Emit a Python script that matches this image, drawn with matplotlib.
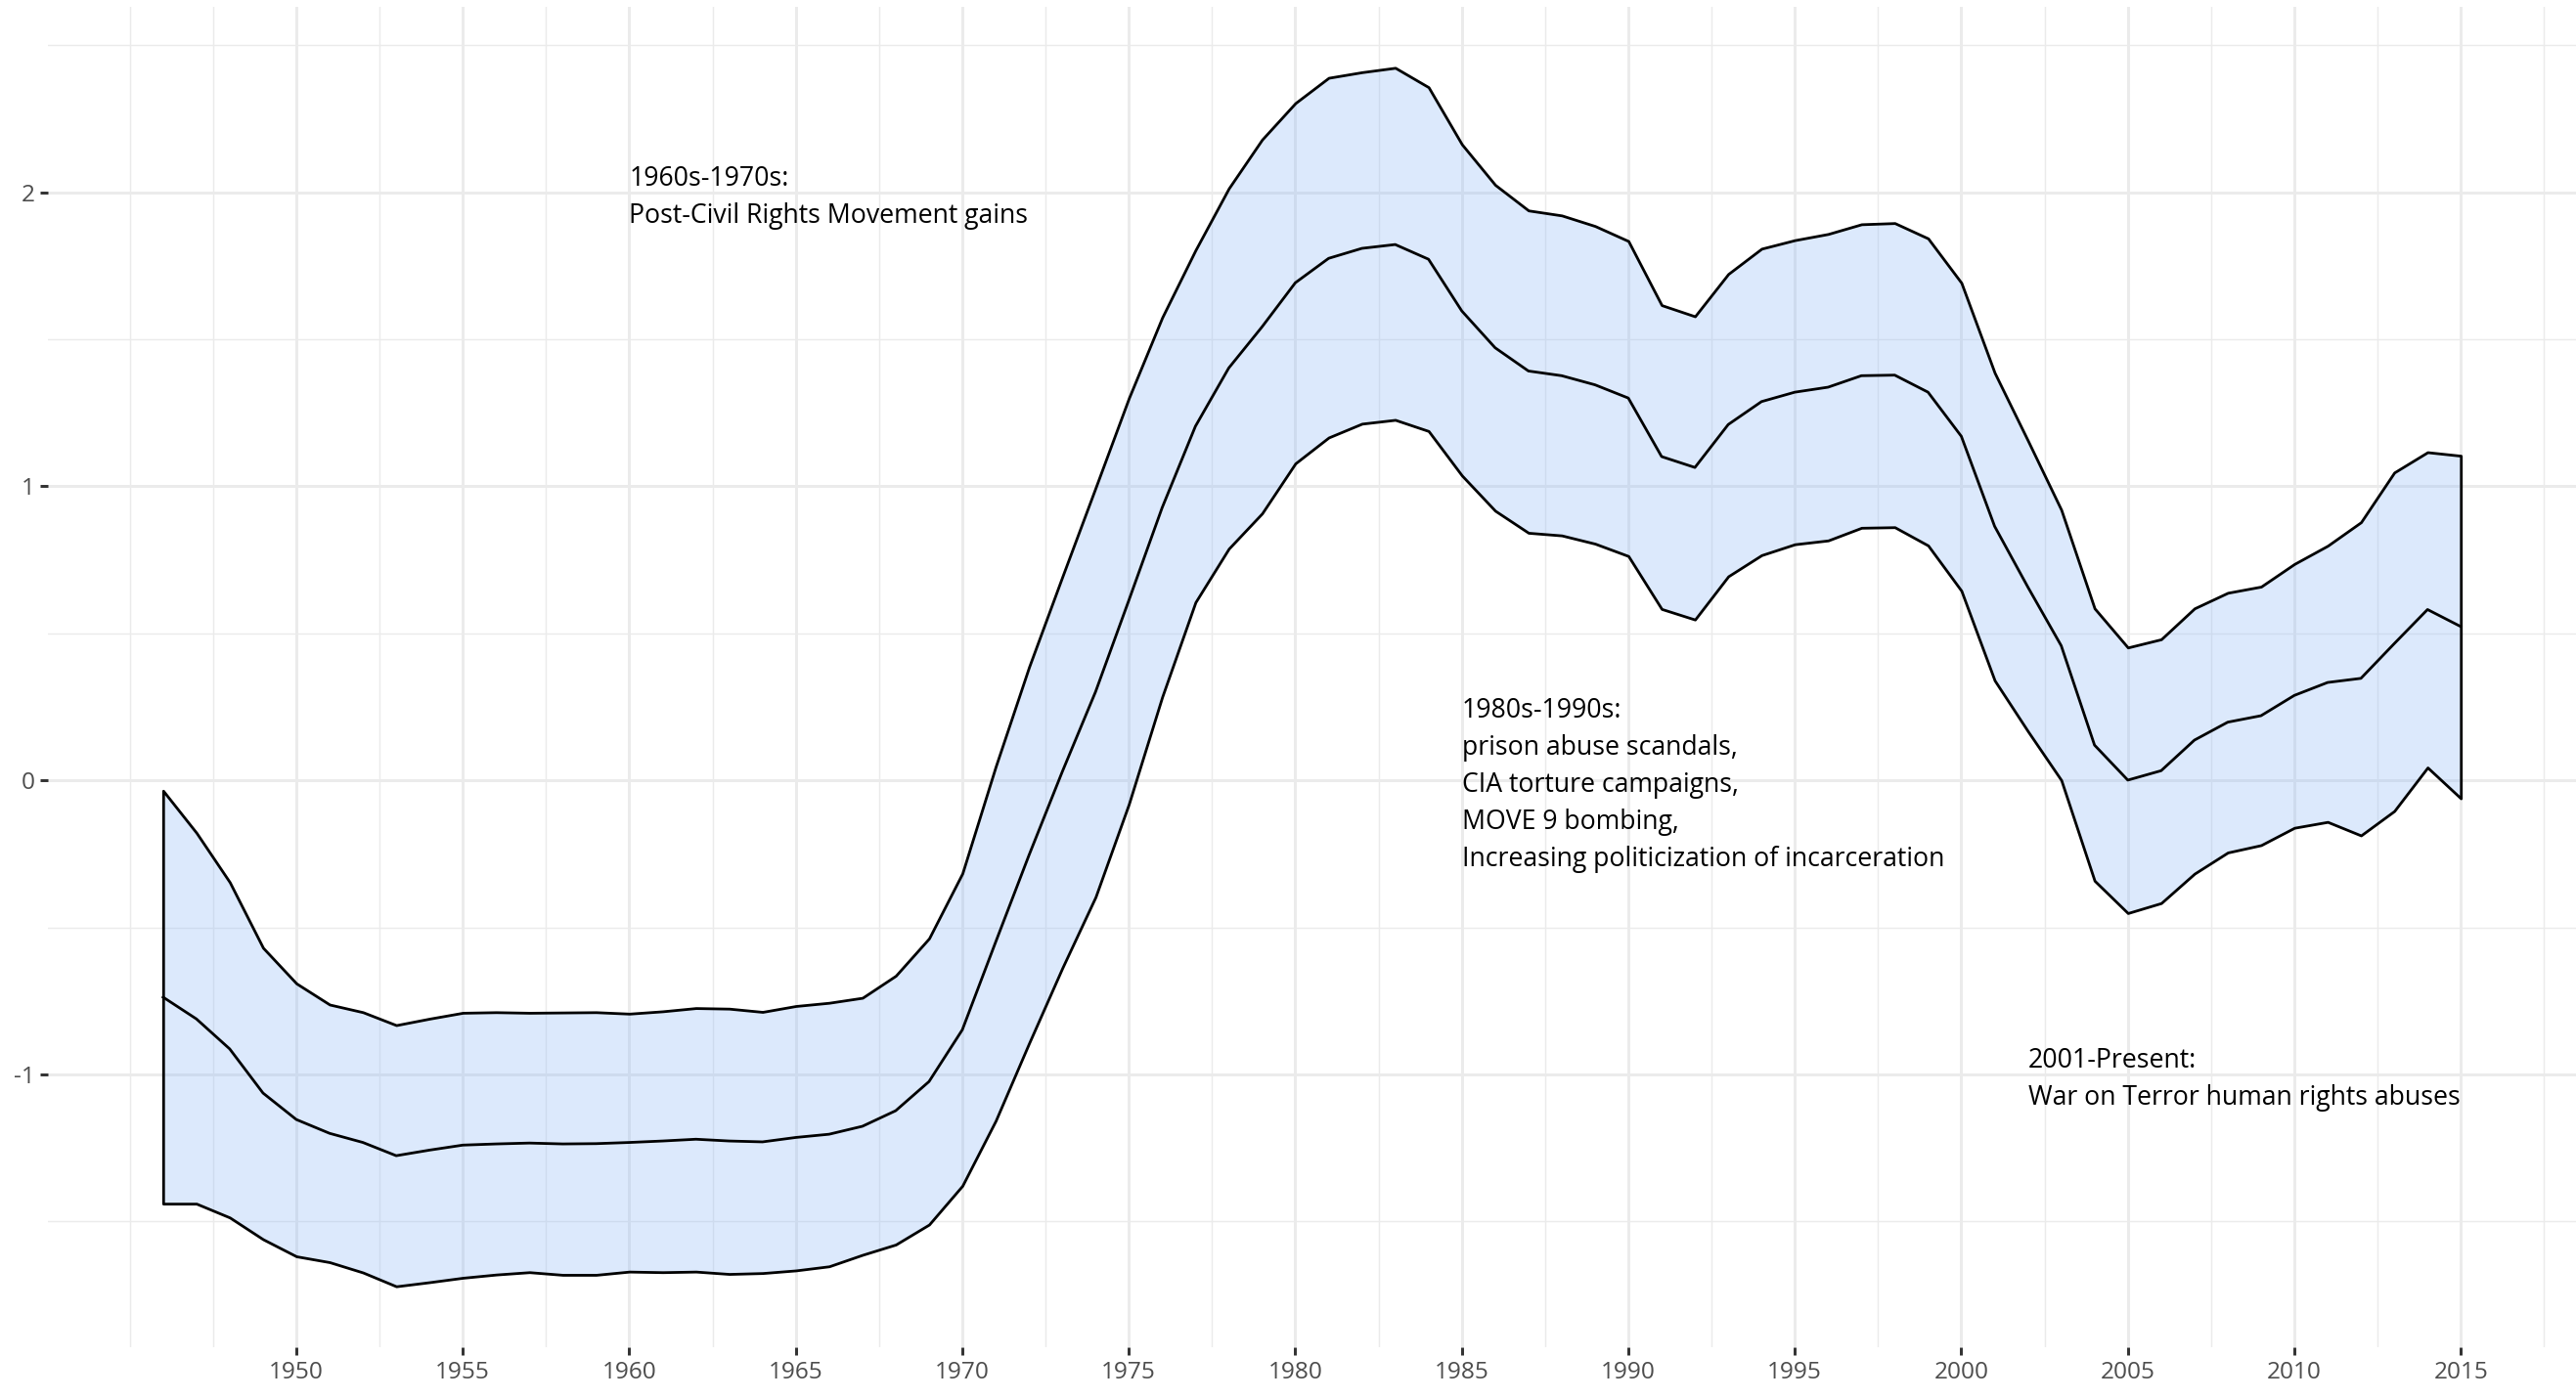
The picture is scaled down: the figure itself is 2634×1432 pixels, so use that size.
import numpy as np
import matplotlib.pyplot as plt
from matplotlib.ticker import FixedLocator

plt.switch_backend('Agg')
plt.rcParams['font.family'] = ['Open Sans', 'DejaVu Sans']

years = np.arange(1946, 2016)

upper = [-0.035, -0.178, -0.346, -0.569, -0.690, -0.762, -0.788, -0.832, -0.810, -0.790,
         -0.788, -0.790, -0.789, -0.788, -0.793, -0.785, -0.774, -0.776, -0.787, -0.767,
         -0.756, -0.739, -0.664, -0.537, -0.316, 0.047, 0.385, 0.692, 0.995, 1.300,
         1.574, 1.803, 2.013, 2.179, 2.303, 2.389, 2.408, 2.423, 2.357, 2.163,
         2.025, 1.938, 1.921, 1.885, 1.834, 1.616, 1.578, 1.722, 1.808, 1.837,
         1.858, 1.891, 1.895, 1.843, 1.692, 1.386, 1.155, 0.920, 0.585, 0.452,
         0.480, 0.585, 0.638, 0.659, 0.736, 0.798, 0.878, 1.047, 1.116, 1.104]

middle = [-0.737, -0.811, -0.913, -1.063, -1.153, -1.200, -1.231, -1.276, -1.257, -1.240,
          -1.236, -1.233, -1.236, -1.235, -1.231, -1.226, -1.220, -1.226, -1.229, -1.214,
          -1.203, -1.176, -1.123, -1.024, -0.848, -0.550, -0.255, 0.029, 0.301, 0.612,
          0.927, 1.204, 1.402, 1.542, 1.692, 1.775, 1.809, 1.822, 1.772, 1.596,
          1.471, 1.392, 1.376, 1.345, 1.300, 1.101, 1.064, 1.210, 1.288, 1.320,
          1.337, 1.376, 1.378, 1.320, 1.170, 0.864, 0.657, 0.458, 0.120, 0.001,
          0.033, 0.137, 0.198, 0.220, 0.289, 0.333, 0.347, 0.465, 0.581, 0.523]

lower = [-1.439, -1.439, -1.486, -1.560, -1.618, -1.638, -1.673, -1.720, -1.706, -1.691,
         -1.680, -1.672, -1.681, -1.681, -1.670, -1.672, -1.670, -1.678, -1.675, -1.666,
         -1.652, -1.613, -1.578, -1.510, -1.378, -1.157, -0.894, -0.638, -0.396, -0.080,
         0.284, 0.606, 0.788, 0.908, 1.078, 1.166, 1.213, 1.226, 1.188, 1.037,
         0.917, 0.842, 0.833, 0.805, 0.763, 0.583, 0.547, 0.694, 0.766, 0.803,
         0.816, 0.859, 0.861, 0.799, 0.645, 0.340, 0.167, 0.001, -0.341, -0.451,
         -0.417, -0.317, -0.245, -0.220, -0.161, -0.141, -0.187, -0.104, 0.044, -0.061]

x_breaks = list(range(1950, 2016, 5))
y_breaks = [-1, 0, 1, 2]

notes = [
    (1960, 2, '1960s-1970s:\nPost-Civil Rights Movement gains'),
    (1985, 0, '1980s-1990s:\nprison abuse scandals,\nCIA torture campaigns,\nMOVE 9 bombing,\nIncreasing politicization of incarceration'),
    (2002, -1, '2001-Present:\nWar on Terror human rights abuses'),
]

fig = plt.figure(figsize=(13.17, 7.16), dpi=200)
ax = fig.add_axes([0.01872, 0.03771, 0.98117, 0.95740])

ax.fill_between(years, lower, upper, facecolor=(0.557, 0.725, 0.973, 0.3),
                edgecolor='black', linewidth=1.0, zorder=2)
ax.plot(years, middle, color='black', linewidth=1.0, zorder=3)

for x, y, s in notes:
    ax.annotate(s, (x, y), xytext=(0, -1.8), textcoords='offset points',
                ha='left', va='center', fontsize=9.6, color='black',
                linespacing=1.48, zorder=4)

# ggplot-like expansion of 5%
xr = years.max() - years.min()
ax.set_xlim(years.min() - 0.05 * xr, years.max() + 0.05 * xr)
ymin, ymax = min(lower), max(upper)
yr = ymax - ymin
ax.set_ylim(ymin - 0.05 * yr, ymax + 0.05 * yr)

ax.xaxis.set_major_locator(FixedLocator(x_breaks))
ax.yaxis.set_major_locator(FixedLocator(y_breaks))
ax.xaxis.set_minor_locator(FixedLocator(np.arange(1945, 2020, 2.5)))
ax.yaxis.set_minor_locator(FixedLocator([-1.5, -0.5, 0.5, 1.5, 2.5]))
ax.set_yticklabels([str(v) for v in y_breaks])

ax.grid(which='major', color='#EBEBEB', linewidth=1.07, zorder=0)
ax.grid(which='minor', color='#EBEBEB', linewidth=0.53, zorder=0)
ax.set_axisbelow(True)

ax.tick_params(which='major', length=2.75, width=1.07, color='#333333',
               labelsize=8.8, labelcolor='#4D4D4D', pad=2.2)
ax.tick_params(which='minor', length=0)
for s in ax.spines.values():
    s.set_visible(False)

plt.savefig('out.png', dpi=200)
plt.close('all')
